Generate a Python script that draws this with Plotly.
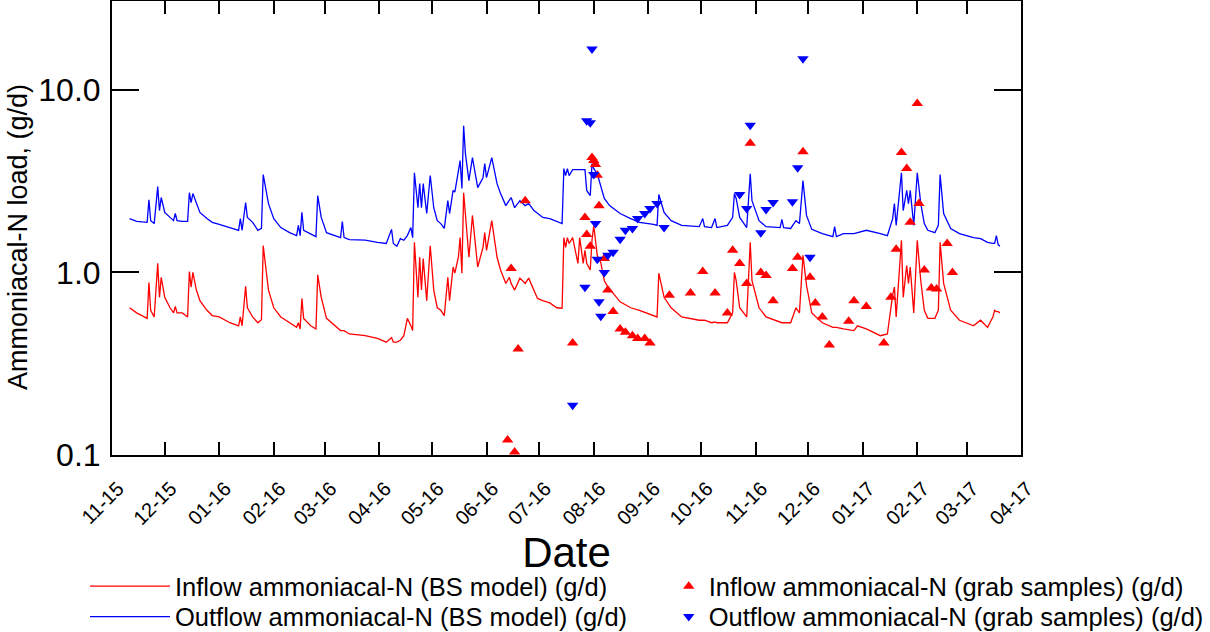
import plotly.graph_objects as go

# ---------------- data ----------------
model_dates = [
    "2015-11-11", "2015-11-15", "2015-11-21", "2015-11-22", "2015-11-23", "2015-11-25",
    "2015-11-27", "2015-11-28", "2015-11-29", "2015-12-01", "2015-12-04", "2015-12-06",
    "2015-12-07", "2015-12-08", "2015-12-11", "2015-12-14", "2015-12-15", "2015-12-16",
    "2015-12-17", "2015-12-19", "2015-12-21", "2015-12-25", "2015-12-28", "2016-01-01",
    "2016-01-07", "2016-01-12", "2016-01-13", "2016-01-14", "2016-01-16", "2016-01-17",
    "2016-01-20", "2016-01-23", "2016-01-25", "2016-01-26", "2016-01-29", "2016-02-01",
    "2016-02-05", "2016-02-10", "2016-02-14", "2016-02-15", "2016-02-16", "2016-02-17",
    "2016-02-18", "2016-02-22", "2016-02-25", "2016-02-26", "2016-02-28", "2016-03-02",
    "2016-03-10", "2016-03-11", "2016-03-12", "2016-03-15", "2016-03-24", "2016-03-31",
    "2016-04-05", "2016-04-08", "2016-04-09", "2016-04-11", "2016-04-13", "2016-04-15",
    "2016-04-17", "2016-04-19", "2016-04-20", "2016-04-21", "2016-04-23", "2016-04-24",
    "2016-04-25", "2016-04-26", "2016-04-28", "2016-04-30", "2016-05-02", "2016-05-04",
    "2016-05-06", "2016-05-08", "2016-05-10", "2016-05-11", "2016-05-13", "2016-05-14",
    "2016-05-16", "2016-05-17", "2016-05-18", "2016-05-19", "2016-05-20", "2016-05-22",
    "2016-05-24", "2016-05-26", "2016-05-27", "2016-05-30", "2016-05-31", "2016-06-01",
    "2016-06-04", "2016-06-07", "2016-06-09", "2016-06-12", "2016-06-14", "2016-06-15",
    "2016-06-17", "2016-06-20", "2016-06-23", "2016-06-25", "2016-06-28", "2016-06-30",
    "2016-07-03", "2016-07-07", "2016-07-11", "2016-07-14", "2016-07-15", "2016-07-16",
    "2016-07-17", "2016-07-18", "2016-07-20", "2016-07-21", "2016-07-23", "2016-07-24",
    "2016-07-26", "2016-07-27", "2016-07-28", "2016-07-30", "2016-07-31", "2016-08-01",
    "2016-08-03", "2016-08-05", "2016-08-07", "2016-08-10", "2016-08-12", "2016-08-16",
    "2016-08-22", "2016-08-27", "2016-09-04", "2016-09-06", "2016-09-07", "2016-09-10",
    "2016-09-14", "2016-09-20", "2016-09-30", "2016-10-02", "2016-10-03", "2016-10-07",
    "2016-10-09", "2016-10-10", "2016-10-16", "2016-10-19", "2016-10-20", "2016-10-21",
    "2016-10-23", "2016-10-27", "2016-10-29", "2016-10-30", "2016-11-03", "2016-11-07",
    "2016-11-15", "2016-11-16", "2016-11-17", "2016-11-21", "2016-11-24", "2016-11-26",
    "2016-11-28", "2016-11-30", "2016-12-03", "2016-12-09", "2016-12-15", "2016-12-16",
    "2016-12-17", "2016-12-21", "2016-12-27", "2016-12-29", "2017-01-03", "2017-01-11",
    "2017-01-15", "2017-01-18", "2017-01-19", "2017-01-20", "2017-01-23", "2017-01-24",
    "2017-01-26", "2017-01-27", "2017-01-28", "2017-01-30", "2017-02-01", "2017-02-03",
    "2017-02-05", "2017-02-07", "2017-02-11", "2017-02-13", "2017-02-14", "2017-02-16",
    "2017-02-20", "2017-02-25", "2017-03-05", "2017-03-09", "2017-03-13", "2017-03-16",
    "2017-03-17", "2017-03-18", "2017-03-19", "2017-03-20",
]

inflow_model = [
    0.64, 0.60, 0.56, 0.88, 0.62, 0.57,
    1.12, 0.73, 0.94, 0.73, 0.64, 0.60,
    0.65, 0.60, 0.60, 0.57, 1.01, 0.83,
    1.00, 0.80, 0.70, 0.62, 0.58, 0.57,
    0.53, 0.51, 0.57, 0.51, 0.84, 0.64,
    0.57, 0.53, 0.55, 1.40, 0.80, 0.64,
    0.57, 0.53, 0.50, 0.53, 0.49, 0.72,
    0.56, 0.51, 0.49, 0.97, 0.73, 0.56,
    0.48, 0.48, 0.48, 0.46, 0.45, 0.435,
    0.415, 0.44, 0.415, 0.415, 0.425, 0.45,
    0.56, 0.51, 0.48, 1.46, 0.73, 1.21,
    0.80, 1.19, 0.70, 1.40, 0.80, 0.64,
    0.62, 0.58, 0.94, 0.70, 1.07, 0.99,
    1.21, 1.55, 0.99, 2.73, 2.10, 1.21,
    2.05, 1.32, 1.07, 1.37, 1.65, 1.32,
    1.92, 1.21, 1.03, 0.87, 0.94, 0.87,
    0.80, 0.93, 0.87, 0.93, 0.80, 0.72,
    0.70, 0.68, 0.64, 0.636, 1.55, 1.37,
    1.55, 1.44, 1.55, 1.37, 1.12, 1.55,
    1.12, 1.32, 1.12, 1.03, 1.50, 1.80,
    1.24, 1.13, 0.90, 0.80, 0.77, 0.69,
    0.64, 0.62, 0.58, 0.57, 0.99, 0.73,
    0.64, 0.57, 0.547, 0.547, 0.547, 0.53,
    0.535, 0.53, 0.53, 0.60, 1.00, 0.90,
    0.64, 0.57, 1.46, 0.90, 0.64, 0.57,
    0.53, 0.53, 0.53, 0.53, 0.64, 0.60,
    1.24, 0.85, 0.60, 0.53, 0.50, 0.50,
    0.50, 0.49, 0.48, 0.51, 0.49, 0.45,
    0.46, 0.75, 0.83, 0.57, 1.50, 0.73,
    1.09, 0.87, 1.07, 0.60, 1.50, 0.90,
    0.62, 0.56, 0.56, 0.62, 1.46, 0.87,
    0.62, 0.547, 0.51, 0.547, 0.50, 0.57,
    0.62, 0.61, 0.61, 0.60,
]

outflow_model = [
    1.97, 1.90, 1.88, 2.50, 1.92, 1.85,
    2.95, 2.18, 2.57, 2.13, 2.00, 1.92,
    2.10, 1.92, 1.90, 1.90, 2.73, 2.41,
    2.70, 2.38, 2.13, 1.97, 1.88, 1.83,
    1.76, 1.70, 1.97, 1.70, 2.41, 2.00,
    1.88, 1.70, 1.74, 3.43, 2.38, 1.97,
    1.76, 1.65, 1.59, 1.81, 1.59, 2.13,
    1.70, 1.63, 1.57, 2.63, 2.00, 1.65,
    1.55, 1.90, 1.55, 1.51, 1.50, 1.46,
    1.44, 1.72, 1.44, 1.39, 1.53, 1.50,
    1.59, 1.76, 1.55, 3.51, 2.26, 3.06,
    2.26, 3.06, 2.10, 3.39, 2.26, 1.92,
    1.85, 1.74, 2.47, 2.10, 2.81, 2.75,
    3.47, 4.09, 2.88, 6.35, 4.47, 3.18,
    4.25, 3.18, 2.91, 3.30, 3.94, 3.30,
    4.25, 3.06, 2.70, 2.32, 2.47, 2.57,
    2.26, 2.47, 2.32, 2.38, 2.18, 2.10,
    2.00, 1.97, 1.90, 1.85, 3.70, 3.39,
    3.70, 3.39, 3.65, 3.65, 3.65, 3.65,
    3.65, 3.65, 2.81, 2.63, 3.94, 3.70,
    3.47, 2.95, 2.54, 2.32, 2.24, 2.10,
    1.97, 1.88, 1.83, 1.81, 2.67, 2.13,
    1.92, 1.81, 1.78, 1.97, 1.78, 1.76,
    1.97, 1.76, 1.81, 2.00, 2.70, 2.54,
    2.00, 1.76, 3.47, 2.47, 1.92, 1.78,
    1.76, 1.95, 1.76, 1.74, 1.92, 1.85,
    3.18, 2.05, 1.72, 1.63, 1.57, 1.78,
    1.57, 1.63, 1.63, 1.65, 1.70, 1.63,
    1.59, 1.97, 2.38, 1.81, 3.51, 2.18,
    2.81, 2.38, 2.81, 1.81, 3.51, 2.38,
    1.85, 1.70, 1.65, 1.81, 3.43, 2.10,
    1.74, 1.63, 1.55, 1.53, 1.46, 1.44,
    1.44, 1.59, 1.42, 1.39,
]

inflow_grab_dates = [
    "2016-06-13", "2016-06-15", "2016-06-17", "2016-06-19", "2016-06-23", "2016-07-20",
    "2016-07-27", "2016-07-28", "2016-07-30", "2016-07-31", "2016-08-01", "2016-08-02",
    "2016-08-03", "2016-08-04", "2016-08-07", "2016-08-09", "2016-08-12", "2016-08-16",
    "2016-08-19", "2016-08-23", "2016-08-26", "2016-08-30", "2016-09-02", "2016-09-13",
    "2016-09-25", "2016-10-02", "2016-10-09", "2016-10-16", "2016-10-19", "2016-10-23",
    "2016-10-27", "2016-10-29", "2016-11-04", "2016-11-07", "2016-11-11", "2016-11-22",
    "2016-11-25", "2016-11-28", "2016-12-02", "2016-12-05", "2016-12-09", "2016-12-13",
    "2016-12-24", "2016-12-27", "2017-01-03", "2017-01-13", "2017-01-17", "2017-01-20",
    "2017-01-23", "2017-01-26", "2017-01-28", "2017-02-01", "2017-02-02", "2017-02-05",
    "2017-02-09", "2017-02-12", "2017-02-18", "2017-02-21",
]
inflow_grab = [
    0.121, 1.05, 0.104, 0.38, 2.47, 0.41,
    2.00, 1.61, 1.39, 4.26, 4.10, 3.90,
    3.40, 2.32, 1.19, 0.80, 0.61, 0.49,
    0.47, 0.45, 0.435, 0.435, 0.41, 0.75,
    0.77, 1.01, 0.77, 0.60, 1.32, 1.12,
    0.87, 5.10, 1.00, 0.96, 0.70, 1.05,
    1.21, 4.58, 0.94, 0.68, 0.57, 0.40,
    0.54, 0.70, 0.65, 0.41, 0.73, 1.34,
    4.53, 3.70, 1.88, 8.40, 2.38, 1.03,
    0.82, 0.81, 1.44, 1.00,
]

outflow_grab_dates = [
    "2016-07-20", "2016-07-27", "2016-07-28", "2016-07-30", "2016-07-31", "2016-08-01",
    "2016-08-02", "2016-08-03", "2016-08-04", "2016-08-05", "2016-08-07", "2016-08-09",
    "2016-08-12", "2016-08-16", "2016-08-19", "2016-08-23", "2016-08-26", "2016-08-30",
    "2016-09-02", "2016-09-06", "2016-09-10", "2016-10-23", "2016-10-27", "2016-10-29",
    "2016-11-04", "2016-11-07", "2016-11-11", "2016-11-22", "2016-11-25", "2016-11-28",
    "2016-12-02",
]
outflow_grab = [
    0.187, 0.83, 6.77, 6.60, 16.7, 3.43,
    1.85, 1.18, 0.69, 0.575, 1.00, 1.24,
    1.29, 1.52, 1.70, 1.74, 1.97, 2.10,
    2.24, 2.38, 1.76, 2.67, 2.24, 6.40,
    1.65, 2.21, 2.41, 2.44, 3.74, 14.8,
    1.21,
]

y_tick_values = [0.1, 1, 10]
y_tick_labels = ["0.1", "1.0", "10.0"]

# ---------------- figure ----------------
FONT = "Liberation Sans, Arial, sans-serif"
RED = "#ff0000"
BLUE = "#0000ff"
LEG_FONT = dict(size=25.5, family=FONT, color="black")

fig = go.Figure()
fig.add_trace(go.Scatter(x=model_dates, y=inflow_model, mode="lines",
                         line=dict(color=RED, width=1.3),
                         name="Inflow ammoniacal-N (BS model) (g/d)", legend="legend"))
fig.add_trace(go.Scatter(x=model_dates, y=outflow_model, mode="lines",
                         line=dict(color=BLUE, width=1.3),
                         name="Outflow ammoniacal-N (BS model) (g/d)", legend="legend3"))
fig.add_trace(go.Scatter(x=inflow_grab_dates, y=inflow_grab, mode="markers",
                         marker=dict(symbol="triangle-up", color=RED, size=10),
                         name="Inflow ammoniacal-N (grab samples) (g/d)", legend="legend2"))
fig.add_trace(go.Scatter(x=outflow_grab_dates, y=outflow_grab, mode="markers",
                         marker=dict(symbol="triangle-down", color=BLUE, size=10),
                         name="Outflow ammoniacal-N (grab samples) (g/d)", legend="legend4"))

ROW1_Y = -0.238
ROW2_Y = -0.305
COL1_X = -0.0297
COL2_X = 0.6125

fig.update_layout(
    width=1210, height=632,
    margin=dict(l=112, r=189, t=1, b=177, autoexpand=False),
    paper_bgcolor="white", plot_bgcolor="white",
    font=dict(family=FONT, color="black"),
    showlegend=True,
    legend=dict(x=COL1_X, y=ROW1_Y, xanchor="left", yanchor="top",
                font=LEG_FONT, bgcolor="rgba(0,0,0,0)", itemwidth=80),
    legend3=dict(x=COL1_X, y=ROW2_Y, xanchor="left", yanchor="top",
                 font=LEG_FONT, bgcolor="rgba(0,0,0,0)", itemwidth=80),
    legend2=dict(x=COL2_X, y=ROW1_Y, xanchor="left", yanchor="top",
                 font=LEG_FONT, bgcolor="rgba(0,0,0,0)"),
    legend4=dict(x=COL2_X, y=ROW2_Y, xanchor="left", yanchor="top",
                 font=LEG_FONT, bgcolor="rgba(0,0,0,0)"),
    annotations=[dict(
        text="Ammoniacal-N load, (g/d)", textangle=-90,
        xref="paper", yref="paper", x=-0.1034, y=0.48,
        xanchor="center", yanchor="middle", showarrow=False,
        font=dict(size=27, family=FONT, color="black"),
    )],
)

fig.update_xaxes(
    type="date",
    range=["2015-11-01", "2017-04-01"],
    tick0="2015-11-01", dtick="M1", tickformat="%m-%y",
    tickangle=-45, tickfont=dict(size=20, family=FONT),
    ticks="inside", ticklen=13, tickwidth=1.5, tickcolor="black",
    ticklabelstandoff=12, ticklabelshift=6,
    showline=True, linewidth=2, linecolor="black", mirror="ticks",
    showgrid=False, zeroline=False, automargin=False,
    title=dict(text="Date", font=dict(size=42, family=FONT), standoff=0),
)
fig.update_yaxes(
    type="log",
    range=[-1, 1.486],
    tickvals=y_tick_values, ticktext=y_tick_labels,
    tickfont=dict(size=32, family=FONT),
    ticks="inside", ticklen=27, tickwidth=1.5, tickcolor="black",
    showline=True, linewidth=2, linecolor="black", mirror="ticks",
    showgrid=False, zeroline=False, automargin=False,
    ticklabelstandoff=3,
)

fig.write_html("out.html")
